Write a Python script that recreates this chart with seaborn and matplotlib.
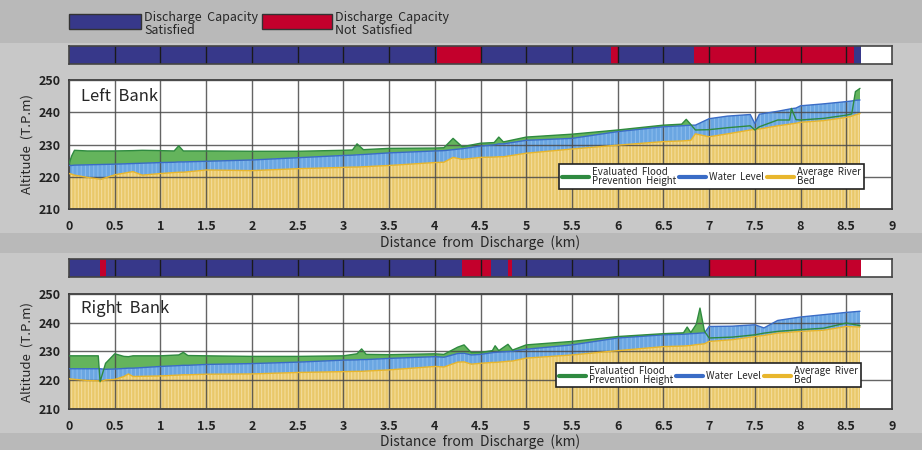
import numpy as np
import pandas as pd
import matplotlib.pyplot as plt
from matplotlib.patches import Rectangle
from matplotlib.lines import Line2D
import seaborn as sns

# ---- data ----
left_km = [0, 0.03, 0.06, 0.2, 0.35, 0.5, 0.7, 0.8, 1.0, 1.15, 1.2, 1.25, 1.5, 2.0, 2.5,
           3.0, 3.1, 3.15, 3.22, 3.5, 4.0, 4.1, 4.2, 4.3, 4.5, 4.65, 4.7, 4.75, 5.0, 5.5,
           6.0, 6.5, 6.7, 6.75, 6.8, 6.85, 7.0, 7.2, 7.45, 7.5, 7.55, 7.75, 7.88, 7.9,
           7.95, 8.0, 8.25, 8.5, 8.56, 8.6, 8.65]
left_flood = [224.0, 226.5, 228.2, 228.0, 228.0, 228.0, 228.1, 228.2, 228.1, 228.0, 229.6,
              228.0, 228.0, 227.9, 227.9, 228.2, 228.3, 230.2, 228.4, 228.8, 228.9, 229.0,
              231.9, 229.3, 230.4, 230.6, 232.3, 230.8, 232.3, 233.2, 234.5, 236.0, 236.3,
              237.8, 236.2, 234.5, 234.6, 235.2, 235.8, 234.5, 235.5, 237.6, 237.6, 241.2,
              237.7, 237.6, 238.1, 239.1, 239.5, 246.4, 247.4]
left_water = [223.5, 223.5, 223.6, 223.7, 223.8, 223.9, 224.1, 224.2, 224.4, 224.5, 224.6,
              224.6, 224.8, 225.2, 225.9, 226.6, 226.7, 226.8, 226.9, 227.4, 228.0, 228.1,
              228.4, 228.7, 229.5, 229.9, 230.2, 230.2, 231.3, 231.9, 234.0, 235.5, 235.8,
              235.9, 236.0, 236.0, 238.0, 238.8, 239.3, 236.5, 239.4, 240.3, 241.0, 241.1,
              241.3, 242.0, 242.6, 243.3, 243.5, 243.7, 243.8]
left_bed = [221.0, 220.8, 220.5, 219.8, 219.2, 220.6, 221.6, 220.5, 221.0, 221.3, 221.4,
            221.4, 222.1, 221.9, 222.5, 222.9, 223.0, 223.0, 223.1, 223.5, 224.4, 224.5,
            226.0, 225.4, 226.0, 226.1, 226.2, 226.2, 227.3, 228.6, 229.8, 230.9, 231.1,
            231.2, 231.3, 233.3, 232.4, 233.3, 234.5, 234.7, 234.8, 235.8, 236.3, 236.4,
            236.6, 236.9, 237.4, 238.4, 238.8, 239.2, 239.6]

right_km = [0, 0.2, 0.32, 0.34, 0.4, 0.5, 0.6, 0.65, 0.7, 1.0, 1.2, 1.25, 1.3, 1.5, 2.0,
            2.5, 3.0, 3.15, 3.2, 3.25, 3.5, 4.0, 4.1, 4.25, 4.32, 4.4, 4.5, 4.63, 4.66,
            4.7, 4.8, 4.85, 5.0, 5.5, 6.0, 6.5, 6.72, 6.76, 6.8, 6.86, 6.9, 6.95, 7.0,
            7.25, 7.5, 7.6, 7.75, 8.0, 8.25, 8.5, 8.65]
right_flood = [228.5, 228.5, 228.5, 219.5, 225.9, 229.2, 228.3, 228.2, 228.5, 228.5, 228.8,
               229.7, 228.6, 228.5, 228.3, 228.3, 228.5, 229.2, 230.9, 229.0, 228.9, 229.2,
               229.0, 231.5, 232.3, 229.6, 229.7, 230.3, 232.0, 230.3, 232.5, 230.5, 232.3,
               233.5, 235.2, 236.2, 236.5, 238.5, 236.6, 239.5, 245.1, 237.0, 234.7, 235.0,
               235.8, 236.4, 237.0, 237.6, 238.1, 239.9, 239.0]
right_water = [224.0, 224.0, 224.0, 224.0, 223.8, 223.9, 224.1, 224.2, 224.2, 224.8, 225.1,
               225.2, 225.2, 225.5, 225.8, 226.3, 227.0, 227.1, 227.2, 227.2, 227.6, 228.2,
               228.0, 229.3, 229.4, 228.8, 229.0, 229.6, 229.7, 229.8, 230.0, 230.1, 230.8,
               232.3, 234.7, 235.8, 236.0, 236.1, 236.2, 236.3, 236.4, 236.5, 238.7, 238.8,
               239.3, 238.2, 240.8, 242.0, 242.8, 243.6, 244.0]
right_bed = [220.5, 219.9, 219.8, 219.5, 220.1, 220.3, 221.3, 222.2, 221.3, 221.5, 221.8,
             221.9, 221.9, 222.1, 222.2, 222.7, 223.0, 223.1, 223.1, 223.2, 223.6, 224.8,
             224.6, 226.3, 226.4, 225.6, 225.9, 226.2, 226.2, 226.3, 226.6, 226.7, 227.7,
             228.8, 230.3, 231.7, 231.9, 232.0, 232.1, 232.4, 232.5, 232.7, 233.5, 234.1,
             235.2, 235.6, 236.4, 237.0, 237.4, 238.7, 238.5]

# discharge capacity status along the river (segment breaks in km)
left_breaks = [0, 4.02, 4.52, 5.93, 6.0, 6.84, 8.58, 8.66]
left_status = ["ok", "ng", "ok", "ng", "ok", "ng", "ok"]
right_breaks = [0, 0.34, 0.4, 4.3, 4.62, 4.8, 4.84, 7.0, 8.66]
right_status = ["ok", "ng", "ok", "ng", "ok", "ng", "ok", "ng"]

C_OK = "#37388a"
C_NG = "#c3002c"
C_GREEN = "#64b45c"
C_GREEN_LINE = "#2f8a40"
C_BLUE = "#6aa6e2"
C_BLUE_LINE = "#3a6cc6"
C_YELLOW = "#e9c86a"
C_YELLOW_LINE = "#e8b62c"
BG = "#c8c8c8"
BAND = "#b9b9b9"

sns.set_style("white")
plt.rcParams["font.family"] = ["Noto Sans CJK JP", "DejaVu Sans"]
plt.rcParams["hatch.linewidth"] = 0.7

W, H = 922, 450


def fx(px):
    return px / W


def fy(py):
    return 1 - py / H


fig = plt.figure(figsize=(9.22, 4.5), dpi=100)
fig.patch.set_facecolor(BG)
for top, bot in [(0, 43), (233, 253), (433, 450)]:
    fig.add_artist(Rectangle((0, fy(bot)), 1, (bot - top) / H, transform=fig.transFigure,
                             facecolor=BAND, edgecolor="none", zorder=-5))

# top legend for the status strips
fig.add_artist(Rectangle((fx(69), fy(29)), fx(72), 15 / H, transform=fig.transFigure,
                         facecolor=C_OK, edgecolor="#333333", lw=1))
fig.text(fx(144), fy(11), "Discharge  Capacity\nSatisfied", fontsize=9,
         va="top", ha="left", linespacing=1.0)
fig.add_artist(Rectangle((fx(262), fy(29)), fx(70), 15 / H, transform=fig.transFigure,
                         facecolor=C_NG, edgecolor="#333333", lw=1))
fig.text(fx(335), fy(11), "Discharge  Capacity\nNot  Satisfied", fontsize=9,
         va="top", ha="left", linespacing=1.0)


def draw_strip(ax, breaks, status):
    starts = breaks[:-1]
    widths = np.diff(breaks)
    colors = [C_OK if s == "ok" else C_NG for s in status]
    ax.barh(0.5, widths, left=starts, height=1, color=colors, edgecolor="none")
    ax.vlines(np.arange(0.5, 8.51, 0.5), 0, 1, color="#1a1a1a", lw=1)
    ax.set_xlim(0, 9)
    ax.set_ylim(0, 1)
    ax.set_xticks([])
    ax.set_yticks([])
    ax.set_facecolor("white")
    for s in ax.spines.values():
        s.set_color("#444444")
        s.set_linewidth(1.2)


def draw_profile(ax, km, flood, water, bed, title, leg_anchor):
    df = pd.DataFrame({"km": km, "flood": flood, "water": water, "bed": bed})
    ax.set_facecolor("white")
    ax.fill_between(df.km, 210, df.bed, facecolor=C_YELLOW, edgecolor="#f4dfa0",
                    hatch="|||||", linewidth=0, zorder=1)
    ax.fill_between(df.km, df.bed, df.water, facecolor=C_BLUE, edgecolor="#8dbdee",
                    hatch="||||", linewidth=0, zorder=1)
    ax.fill_between(df.km, df.water, df.flood, where=df.flood > df.water,
                    interpolate=True, facecolor=C_GREEN, edgecolor="none", zorder=1)
    sns.lineplot(data=df, x="km", y="bed", ax=ax, color=C_YELLOW_LINE, lw=1, zorder=3)
    sns.lineplot(data=df, x="km", y="water", ax=ax, color=C_BLUE_LINE, lw=1, zorder=3)
    sns.lineplot(data=df, x="km", y="flood", ax=ax, color=C_GREEN_LINE, lw=1, zorder=3)

    ax.set_xlim(0, 9)
    ax.set_ylim(210, 250)
    ax.set_xticks(np.arange(0, 9.01, 0.5))
    ax.set_xticklabels([f"{v:g}" for v in np.arange(0, 9.01, 0.5)])
    ax.set_yticks([210, 220, 230, 240, 250])
    ax.grid(True, color="#4a4a4a", lw=1.0, alpha=0.85)
    ax.set_axisbelow(False)
    ax.tick_params(axis="both", direction="out", length=4, width=0.8, color="#666666",
                   labelsize=9, pad=2)
    ax.tick_params(axis="x", pad=4)
    for lab in ax.get_xticklabels() + ax.get_yticklabels():
        lab.set_fontweight("bold")
        lab.set_color("#222222")
    for s in ax.spines.values():
        s.set_color("#333333")
        s.set_linewidth(1.2)
    ax.set_xlabel("")
    ax.set_ylabel("Altitude  (T.P.m)", fontsize=9.5, labelpad=4)
    ax.text(0.014, 0.87, title, transform=ax.transAxes, fontsize=12,
            va="center", ha="left", zorder=5)

    handles = [Line2D([], [], color=C_GREEN_LINE, lw=3),
               Line2D([], [], color=C_BLUE_LINE, lw=3),
               Line2D([], [], color=C_YELLOW_LINE, lw=3)]
    labels = ["Evaluated  Flood\nPrevention  Height", "Water  Level", "Average  River\nBed"]
    leg = ax.legend(handles, labels, ncol=3, loc="lower right", bbox_to_anchor=leg_anchor,
                    fontsize=7, frameon=True, fancybox=False, framealpha=1,
                    edgecolor="#222222", handlelength=2.8, handletextpad=0.3,
                    columnspacing=0.3, borderpad=0.3, labelspacing=0.1)
    leg.get_frame().set_linewidth(1.2)
    for t in leg.get_texts():
        t.set_linespacing(0.85)
    leg.set_zorder(6)


ax_s1 = fig.add_axes([fx(69), fy(64), fx(823), 18 / H])
ax_p1 = fig.add_axes([fx(69), fy(209), fx(823), 129 / H])
ax_s2 = fig.add_axes([fx(69), fy(277), fx(823), 18 / H])
ax_p2 = fig.add_axes([fx(69), fy(409), fx(823), 115 / H])

draw_strip(ax_s1, left_breaks, left_status)
draw_strip(ax_s2, right_breaks, right_status)
draw_profile(ax_p1, left_km, left_flood, left_water, left_bed, "Left  Bank", (0.972, 0.12))
draw_profile(ax_p2, right_km, right_flood, right_water, right_bed, "Right  Bank", (0.968, 0.145))

for py in (243, 442):
    fig.text(fx(480), fy(py), "Distance  from  Discharge  (km)", fontsize=10,
             ha="center", va="center")

fig.savefig("out.png", dpi=100, facecolor=fig.get_facecolor())
